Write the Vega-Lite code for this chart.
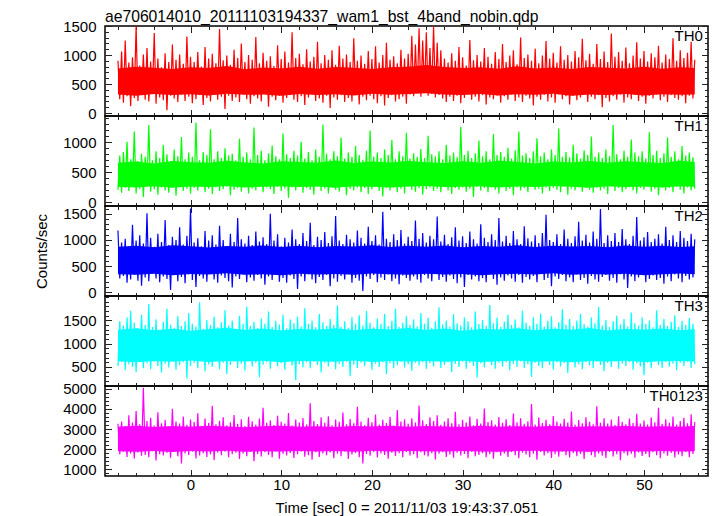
{
"$schema":"https://vega.github.io/schema/vega-lite/v6.json",
"padding":{"left":33,"top":8,"right":7,"bottom":2},
"config":{"font":"Liberation Sans","view":{"stroke":"#000","strokeWidth":1.5},
"axis":{"grid":false,"domain":false,"tickColor":"#222","tickWidth":1,"labelColor":"#000","labelFontSize":15,"labelFont":"Liberation Sans","titleFont":"Liberation Sans","titleFontSize":15,"titleFontWeight":"normal","titleColor":"#000","labelOverlap":false,"labelFlush":false,"minExtent":0},
"title":{"font":"Liberation Sans","fontSize":15.7,"fontWeight":"normal","color":"#000"},
"text":{"font":"Liberation Sans","fontSize":15,"color":"#000"}},
"datasets":{
"band":[
{"t":-8,"a0":320,"a1":770,"b0":260,"b1":660,"c0":340,"c1":870,"d0":620,"d1":1300,"e0":1900,"e1":3120},
{"t":-6,"a0":300,"a1":800,"b0":250,"b1":680,"c0":330,"c1":890,"d0":600,"d1":1330,"e0":1880,"e1":3160},
{"t":-4,"a0":330,"a1":780,"b0":270,"b1":650,"c0":350,"c1":860,"d0":630,"d1":1290,"e0":1920,"e1":3100},
{"t":-2,"a0":310,"a1":760,"b0":245,"b1":690,"c0":325,"c1":900,"d0":610,"d1":1320,"e0":1870,"e1":3150},
{"t":0,"a0":325,"a1":790,"b0":265,"b1":670,"c0":345,"c1":880,"d0":640,"d1":1280,"e0":1910,"e1":3110},
{"t":2,"a0":305,"a1":775,"b0":255,"b1":660,"c0":335,"c1":855,"d0":605,"d1":1310,"e0":1890,"e1":3170},
{"t":4,"a0":335,"a1":810,"b0":275,"b1":695,"c0":360,"c1":885,"d0":625,"d1":1340,"e0":1930,"e1":3130},
{"t":6,"a0":315,"a1":755,"b0":250,"b1":665,"c0":330,"c1":870,"d0":615,"d1":1295,"e0":1875,"e1":3095},
{"t":8,"a0":320,"a1":785,"b0":260,"b1":650,"c0":340,"c1":895,"d0":635,"d1":1325,"e0":1905,"e1":3145},
{"t":10,"a0":300,"a1":770,"b0":270,"b1":685,"c0":325,"c1":865,"d0":600,"d1":1285,"e0":1885,"e1":3165},
{"t":12,"a0":330,"a1":800,"b0":255,"b1":675,"c0":350,"c1":890,"d0":630,"d1":1315,"e0":1920,"e1":3115},
{"t":14,"a0":310,"a1":765,"b0":265,"b1":660,"c0":335,"c1":860,"d0":620,"d1":1300,"e0":1895,"e1":3135},
{"t":16,"a0":325,"a1":795,"b0":245,"b1":700,"c0":345,"c1":885,"d0":610,"d1":1330,"e0":1910,"e1":3105},
{"t":18,"a0":305,"a1":780,"b0":270,"b1":655,"c0":330,"c1":875,"d0":640,"d1":1290,"e0":1880,"e1":3155},
{"t":20,"a0":335,"a1":760,"b0":260,"b1":680,"c0":355,"c1":900,"d0":605,"d1":1320,"e0":1925,"e1":3125},
{"t":22,"a0":315,"a1":790,"b0":250,"b1":665,"c0":340,"c1":865,"d0":625,"d1":1305,"e0":1890,"e1":3170},
{"t":24,"a0":330,"a1":800,"b0":265,"b1":690,"c0":330,"c1":890,"d0":615,"d1":1335,"e0":1915,"e1":3110},
{"t":26,"a0":340,"a1":830,"b0":275,"b1":670,"c0":350,"c1":870,"d0":630,"d1":1295,"e0":1900,"e1":3150},
{"t":28,"a0":320,"a1":795,"b0":255,"b1":655,"c0":335,"c1":895,"d0":610,"d1":1325,"e0":1885,"e1":3130},
{"t":30,"a0":310,"a1":775,"b0":260,"b1":685,"c0":345,"c1":860,"d0":635,"d1":1280,"e0":1920,"e1":3100},
{"t":32,"a0":330,"a1":790,"b0":270,"b1":660,"c0":325,"c1":885,"d0":605,"d1":1315,"e0":1895,"e1":3160},
{"t":34,"a0":305,"a1":765,"b0":250,"b1":695,"c0":340,"c1":870,"d0":620,"d1":1305,"e0":1875,"e1":3120},
{"t":36,"a0":325,"a1":805,"b0":265,"b1":675,"c0":350,"c1":900,"d0":640,"d1":1330,"e0":1910,"e1":3145},
{"t":38,"a0":315,"a1":770,"b0":255,"b1":650,"c0":335,"c1":865,"d0":610,"d1":1290,"e0":1930,"e1":3115},
{"t":40,"a0":335,"a1":785,"b0":275,"b1":680,"c0":360,"c1":890,"d0":630,"d1":1320,"e0":1890,"e1":3170},
{"t":42,"a0":300,"a1":760,"b0":260,"b1":665,"c0":330,"c1":875,"d0":600,"d1":1300,"e0":1905,"e1":3105},
{"t":44,"a0":320,"a1":795,"b0":245,"b1":690,"c0":345,"c1":885,"d0":625,"d1":1335,"e0":1880,"e1":3140},
{"t":46,"a0":310,"a1":780,"b0":270,"b1":660,"c0":335,"c1":860,"d0":615,"d1":1285,"e0":1920,"e1":3125},
{"t":48,"a0":330,"a1":770,"b0":255,"b1":685,"c0":350,"c1":895,"d0":635,"d1":1315,"e0":1900,"e1":3155},
{"t":50,"a0":305,"a1":800,"b0":265,"b1":670,"c0":325,"c1":870,"d0":605,"d1":1300,"e0":1885,"e1":3110},
{"t":52,"a0":325,"a1":765,"b0":250,"b1":655,"c0":340,"c1":890,"d0":620,"d1":1325,"e0":1915,"e1":3135},
{"t":54,"a0":315,"a1":790,"b0":270,"b1":695,"c0":355,"c1":865,"d0":630,"d1":1290,"e0":1895,"e1":3120},
{"t":55.6,"a0":320,"a1":775,"b0":260,"b1":675,"c0":340,"c1":880,"d0":615,"d1":1310,"e0":1905,"e1":3150}
],
"lc":[
{"t":-8.0,"a":900,"b":210,"c":1180,"d":520,"e":3260},
{"t":-7.8,"a":240,"b":780,"c":260,"d":1480,"e":1750},
{"t":-7.6,"a":1060,"b":160,"c":950,"d":610,"e":3380},
{"t":-7.4,"a":180,"b":840,"c":310,"d":1390,"e":1880},
{"t":-7.2,"a":1250,"b":240,"c":1020,"d":430,"e":3150},
{"t":-7.0,"a":290,"b":1010,"c":180,"d":1560,"e":1620},
{"t":-6.8,"a":870,"b":190,"c":880,"d":560,"e":3690},
{"t":-6.6,"a":120,"b":720,"c":240,"d":1710,"e":1790},
{"t":-6.4,"a":960,"b":260,"c":1290,"d":500,"e":3320},
{"t":-6.2,"a":260,"b":1180,"c":330,"d":1450,"e":1540},
{"t":-6.0,"a":1500,"b":150,"c":990,"d":390,"e":3890},
{"t":-5.8,"a":210,"b":690,"c":220,"d":1330,"e":1840},
{"t":-5.6,"a":820,"b":230,"c":1090,"d":620,"e":3240},
{"t":-5.4,"a":310,"b":810,"c":120,"d":1620,"e":1680},
{"t":-5.2,"a":1010,"b":90,"c":930,"d":470,"e":5050},
{"t":-5.0,"a":230,"b":760,"c":280,"d":1400,"e":1720},
{"t":-4.8,"a":1120,"b":270,"c":1510,"d":580,"e":3400},
{"t":-4.6,"a":200,"b":1290,"c":210,"d":1850,"e":1610},
{"t":-4.4,"a":890,"b":180,"c":1040,"d":450,"e":3560},
{"t":-4.2,"a":330,"b":700,"c":350,"d":1360,"e":1900},
{"t":-4.0,"a":1380,"b":220,"c":870,"d":610,"e":3180},
{"t":-3.8,"a":160,"b":850,"c":260,"d":1520,"e":1450},
{"t":-3.6,"a":940,"b":130,"c":1120,"d":520,"e":3830},
{"t":-3.4,"a":270,"b":740,"c":190,"d":1290,"e":1760},
{"t":-3.2,"a":790,"b":250,"c":960,"d":380,"e":3290},
{"t":-3.0,"a":220,"b":960,"c":300,"d":1470,"e":1690},
{"t":-2.8,"a":1030,"b":200,"c":1380,"d":570,"e":3450},
{"t":-2.6,"a":50,"b":800,"c":250,"d":1750,"e":1830},
{"t":-2.4,"a":880,"b":160,"c":900,"d":490,"e":3120},
{"t":-2.2,"a":300,"b":690,"c":40,"d":1410,"e":1580},
{"t":-2.0,"a":1180,"b":240,"c":1060,"d":630,"e":4010},
{"t":-1.8,"a":250,"b":880,"c":330,"d":1340,"e":1870},
{"t":-1.6,"a":920,"b":110,"c":1000,"d":440,"e":3370},
{"t":-1.4,"a":190,"b":770,"c":210,"d":1590,"e":1650},
{"t":-1.2,"a":1010,"b":260,"c":1240,"d":540,"e":3280},
{"t":-1.0,"a":320,"b":1090,"c":290,"d":1380,"e":1300},
{"t":-0.8,"a":850,"b":190,"c":910,"d":600,"e":3620},
{"t":-0.6,"a":210,"b":720,"c":170,"d":1480,"e":1790},
{"t":-0.4,"a":1320,"b":230,"c":1080,"d":250,"e":3210},
{"t":-0.2,"a":280,"b":830,"c":340,"d":1660,"e":1720},
{"t":0.0,"a":970,"b":150,"c":1600,"d":520,"e":3470},
{"t":0.2,"a":170,"b":760,"c":230,"d":1430,"e":1880},
{"t":0.4,"a":880,"b":240,"c":950,"d":590,"e":3350},
{"t":0.6,"a":240,"b":1330,"c":100,"d":1370,"e":1540},
{"t":0.8,"a":1050,"b":200,"c":1030,"d":470,"e":3780},
{"t":1.0,"a":310,"b":700,"c":310,"d":1890,"e":1690},
{"t":1.2,"a":800,"b":270,"c":880,"d":620,"e":3160},
{"t":1.4,"a":140,"b":840,"c":260,"d":1320,"e":1810},
{"t":1.6,"a":1140,"b":170,"c":1170,"d":410,"e":3520},
{"t":1.8,"a":260,"b":790,"c":200,"d":1510,"e":1620},
{"t":2.0,"a":940,"b":230,"c":990,"d":560,"e":3300},
{"t":2.2,"a":200,"b":1220,"c":350,"d":1400,"e":1760},
{"t":2.4,"a":1020,"b":140,"c":1090,"d":500,"e":4150},
{"t":2.6,"a":330,"b":720,"c":240,"d":1580,"e":1470},
{"t":2.8,"a":860,"b":250,"c":910,"d":630,"e":3240},
{"t":3.0,"a":230,"b":850,"c":180,"d":1350,"e":1840},
{"t":3.2,"a":1450,"b":190,"c":1270,"d":450,"e":3410},
{"t":3.4,"a":280,"b":740,"c":320,"d":1460,"e":1700},
{"t":3.6,"a":910,"b":220,"c":1000,"d":590,"e":3590},
{"t":3.8,"a":70,"b":900,"c":270,"d":1720,"e":1880},
{"t":4.0,"a":990,"b":260,"c":880,"d":350,"e":3190},
{"t":4.2,"a":300,"b":780,"c":210,"d":1390,"e":1610},
{"t":4.4,"a":830,"b":120,"c":1120,"d":540,"e":3340},
{"t":4.6,"a":210,"b":810,"c":90,"d":1500,"e":1750},
{"t":4.8,"a":1090,"b":210,"c":960,"d":610,"e":3700},
{"t":5.0,"a":270,"b":700,"c":300,"d":1310,"e":1830},
{"t":5.2,"a":950,"b":240,"c":1420,"d":480,"e":3260},
{"t":5.4,"a":190,"b":1060,"c":250,"d":1600,"e":1520},
{"t":5.6,"a":1200,"b":180,"c":1010,"d":570,"e":3480},
{"t":5.8,"a":320,"b":760,"c":340,"d":1420,"e":1790},
{"t":6.0,"a":880,"b":270,"c":930,"d":420,"e":3150},
{"t":6.2,"a":240,"b":830,"c":190,"d":1800,"e":1660},
{"t":6.4,"a":1000,"b":150,"c":1080,"d":640,"e":3610},
{"t":6.6,"a":160,"b":720,"c":280,"d":1380,"e":1860},
{"t":6.8,"a":920,"b":230,"c":900,"d":510,"e":3390},
{"t":7.0,"a":290,"b":1250,"c":220,"d":1470,"e":1410},
{"t":7.2,"a":1310,"b":200,"c":1160,"d":590,"e":3230},
{"t":7.4,"a":250,"b":790,"c":330,"d":1340,"e":1770},
{"t":7.6,"a":860,"b":260,"c":970,"d":280,"e":3520},
{"t":7.8,"a":200,"b":860,"c":260,"d":1540,"e":1640},
{"t":8.0,"a":1040,"b":170,"c":1050,"d":550,"e":4060},
{"t":8.2,"a":330,"b":700,"c":140,"d":1430,"e":1850},
{"t":8.4,"a":900,"b":250,"c":920,"d":600,"e":3310},
{"t":8.6,"a":110,"b":820,"c":300,"d":1690,"e":1720},
{"t":8.8,"a":980,"b":220,"c":1500,"d":460,"e":3440},
{"t":9.0,"a":280,"b":950,"c":230,"d":1360,"e":1600},
{"t":9.2,"a":810,"b":140,"c":990,"d":620,"e":3200},
{"t":9.4,"a":220,"b":770,"c":350,"d":1490,"e":1890},
{"t":9.6,"a":1170,"b":260,"c":1110,"d":510,"e":3660},
{"t":9.8,"a":300,"b":720,"c":200,"d":1410,"e":1530},
{"t":10.0,"a":930,"b":190,"c":880,"d":580,"e":3360},
{"t":10.2,"a":180,"b":1150,"c":270,"d":1620,"e":1780},
{"t":10.4,"a":1060,"b":230,"c":1040,"d":440,"e":3280},
{"t":10.6,"a":260,"b":800,"c":180,"d":1330,"e":1690},
{"t":10.8,"a":870,"b":80,"c":950,"d":630,"e":3790},
{"t":11.0,"a":310,"b":740,"c":320,"d":1520,"e":1820},
{"t":11.2,"a":1390,"b":250,"c":1200,"d":530,"e":3170},
{"t":11.4,"a":230,"b":860,"c":250,"d":1440,"e":1570},
{"t":11.6,"a":950,"b":200,"c":1010,"d":220,"e":3470},
{"t":11.8,"a":190,"b":780,"c":60,"d":1580,"e":1760},
{"t":12.0,"a":1020,"b":270,"c":920,"d":560,"e":3330},
{"t":12.2,"a":290,"b":1010,"c":300,"d":1370,"e":1880},
{"t":12.4,"a":840,"b":160,"c":1130,"d":490,"e":3550},
{"t":12.6,"a":140,"b":730,"c":210,"d":1760,"e":1630},
{"t":12.8,"a":1100,"b":240,"c":980,"d":600,"e":3220},
{"t":13.0,"a":270,"b":840,"c":340,"d":1420,"e":1710},
{"t":13.2,"a":890,"b":210,"c":1330,"d":470,"e":4280},
{"t":13.4,"a":320,"b":700,"c":240,"d":1500,"e":1480},
{"t":13.6,"a":970,"b":130,"c":900,"d":610,"e":3400},
{"t":13.8,"a":210,"b":880,"c":170,"d":1350,"e":1850},
{"t":14.0,"a":1230,"b":260,"c":1060,"d":540,"e":3250},
{"t":14.2,"a":250,"b":760,"c":290,"d":1640,"e":1620},
{"t":14.4,"a":860,"b":190,"c":1000,"d":380,"e":3580},
{"t":14.6,"a":180,"b":1300,"c":230,"d":1460,"e":1790},
{"t":14.8,"a":1000,"b":230,"c":1150,"d":590,"e":3310},
{"t":15.0,"a":300,"b":810,"c":330,"d":1380,"e":1700},
{"t":15.2,"a":920,"b":150,"c":940,"d":510,"e":3640},
{"t":15.4,"a":90,"b":720,"c":110,"d":1530,"e":1840},
{"t":15.6,"a":1080,"b":250,"c":1070,"d":620,"e":3190},
{"t":15.8,"a":270,"b":850,"c":260,"d":1400,"e":1560},
{"t":16.0,"a":830,"b":210,"c":1460,"d":450,"e":3470},
{"t":16.2,"a":230,"b":770,"c":200,"d":1820,"e":1780},
{"t":16.4,"a":1160,"b":180,"c":990,"d":570,"e":3360},
{"t":16.6,"a":310,"b":1080,"c":310,"d":1360,"e":1650},
{"t":16.8,"a":940,"b":260,"c":920,"d":500,"e":3820},
{"t":17.0,"a":190,"b":730,"c":240,"d":1480,"e":1890},
{"t":17.2,"a":1010,"b":120,"c":1100,"d":610,"e":3240},
{"t":17.4,"a":260,"b":830,"c":350,"d":1340,"e":1520},
{"t":17.6,"a":880,"b":230,"c":1010,"d":300,"e":3500},
{"t":17.8,"a":200,"b":760,"c":180,"d":1570,"e":1740},
{"t":18.0,"a":1290,"b":200,"c":950,"d":550,"e":3290},
{"t":18.2,"a":320,"b":940,"c":270,"d":1430,"e":1820},
{"t":18.4,"a":900,"b":250,"c":1180,"d":480,"e":4100},
{"t":18.6,"a":150,"b":790,"c":220,"d":1610,"e":1610},
{"t":18.8,"a":990,"b":170,"c":1040,"d":590,"e":3380},
{"t":19.0,"a":280,"b":710,"c":20,"d":1390,"e":1300},
{"t":19.2,"a":850,"b":240,"c":930,"d":520,"e":3190},
{"t":19.4,"a":220,"b":860,"c":300,"d":1700,"e":1770},
{"t":19.6,"a":1070,"b":140,"c":1250,"d":630,"e":3560},
{"t":19.8,"a":300,"b":1200,"c":250,"d":1450,"e":1680},
{"t":20.0,"a":930,"b":220,"c":980,"d":440,"e":3340},
{"t":20.2,"a":240,"b":760,"c":330,"d":1350,"e":1860},
{"t":20.4,"a":1150,"b":260,"c":1090,"d":570,"e":3720},
{"t":20.6,"a":170,"b":830,"c":190,"d":1540,"e":1590},
{"t":20.8,"a":870,"b":190,"c":910,"d":500,"e":3230},
{"t":21.0,"a":290,"b":740,"c":280,"d":1420,"e":1790},
{"t":21.2,"a":1000,"b":100,"c":1540,"d":600,"e":3460},
{"t":21.4,"a":130,"b":880,"c":230,"d":1640,"e":1720},
{"t":21.6,"a":1210,"b":240,"c":1020,"d":350,"e":3300},
{"t":21.8,"a":260,"b":790,"c":340,"d":1380,"e":1530},
{"t":22.0,"a":920,"b":200,"c":960,"d":580,"e":3610},
{"t":22.2,"a":310,"b":1040,"c":210,"d":1490,"e":1830},
{"t":22.4,"a":980,"b":250,"c":1110,"d":470,"e":3180},
{"t":22.6,"a":200,"b":720,"c":260,"d":1750,"e":1670},
{"t":22.8,"a":860,"b":170,"c":1000,"d":540,"e":3950},
{"t":23.0,"a":240,"b":850,"c":150,"d":1360,"e":1800},
{"t":23.2,"a":1090,"b":230,"c":1190,"d":610,"e":3370},
{"t":23.4,"a":280,"b":770,"c":320,"d":1450,"e":1600},
{"t":23.6,"a":940,"b":150,"c":930,"d":490,"e":3490},
{"t":23.8,"a":160,"b":1160,"c":270,"d":1590,"e":1870},
{"t":24.0,"a":1020,"b":260,"c":1060,"d":560,"e":3260},
{"t":24.2,"a":320,"b":730,"c":220,"d":1400,"e":1690},
{"t":24.4,"a":1330,"b":210,"c":980,"d":420,"e":3540},
{"t":24.6,"a":290,"b":820,"c":300,"d":1520,"e":1760},
{"t":24.8,"a":1180,"b":180,"c":1370,"d":590,"e":3320},
{"t":25.0,"a":340,"b":760,"c":240,"d":1370,"e":1560},
{"t":25.2,"a":1460,"b":240,"c":1020,"d":530,"e":4170},
{"t":25.4,"a":280,"b":890,"c":180,"d":1660,"e":1850},
{"t":25.6,"a":1250,"b":130,"c":1130,"d":600,"e":3430},
{"t":25.8,"a":360,"b":740,"c":330,"d":1430,"e":1700},
{"t":26.0,"a":1390,"b":220,"c":950,"d":460,"e":3250},
{"t":26.2,"a":300,"b":1110,"c":260,"d":1550,"e":1640},
{"t":26.4,"a":1120,"b":250,"c":1080,"d":580,"e":3580},
{"t":26.6,"a":330,"b":800,"c":210,"d":1340,"e":1810},
{"t":26.8,"a":1500,"b":190,"c":1010,"d":510,"e":3400},
{"t":27.0,"a":270,"b":770,"c":350,"d":1480,"e":1490},
{"t":27.2,"a":1210,"b":230,"c":1450,"d":620,"e":3690},
{"t":27.4,"a":310,"b":850,"c":230,"d":1780,"e":1780},
{"t":27.6,"a":1080,"b":170,"c":970,"d":480,"e":3210},
{"t":27.8,"a":250,"b":720,"c":290,"d":1410,"e":1860},
{"t":28.0,"a":940,"b":260,"c":1100,"d":550,"e":3370},
{"t":28.2,"a":190,"b":960,"c":200,"d":1500,"e":1620},
{"t":28.4,"a":870,"b":200,"c":920,"d":600,"e":3530},
{"t":28.6,"a":280,"b":780,"c":320,"d":1370,"e":1740},
{"t":28.8,"a":1030,"b":140,"c":1050,"d":390,"e":3290},
{"t":29.0,"a":210,"b":830,"c":250,"d":1630,"e":1580},
{"t":29.2,"a":900,"b":240,"c":1240,"d":570,"e":3860},
{"t":29.4,"a":300,"b":750,"c":170,"d":1440,"e":1830},
{"t":29.6,"a":1140,"b":210,"c":990,"d":500,"e":3240},
{"t":29.8,"a":170,"b":1260,"c":280,"d":1390,"e":1690},
{"t":30.0,"a":960,"b":250,"c":1070,"d":610,"e":3460},
{"t":30.2,"a":260,"b":790,"c":100,"d":1560,"e":1770},
{"t":30.4,"a":820,"b":180,"c":940,"d":460,"e":3330},
{"t":30.6,"a":320,"b":860,"c":330,"d":1480,"e":1550},
{"t":30.8,"a":1260,"b":230,"c":1160,"d":590,"e":3620},
{"t":31.0,"a":230,"b":740,"c":240,"d":1350,"e":1880},
{"t":31.2,"a":910,"b":90,"c":1010,"d":520,"e":3190},
{"t":31.4,"a":280,"b":820,"c":300,"d":1690,"e":1660},
{"t":31.6,"a":1000,"b":260,"c":930,"d":270,"e":3510},
{"t":31.8,"a":200,"b":1030,"c":210,"d":1420,"e":1720},
{"t":32.0,"a":890,"b":200,"c":1300,"d":580,"e":3280},
{"t":32.2,"a":310,"b":770,"c":270,"d":1510,"e":1810},
{"t":32.4,"a":1120,"b":240,"c":1040,"d":490,"e":4020},
{"t":32.6,"a":150,"b":850,"c":190,"d":1380,"e":1600},
{"t":32.8,"a":970,"b":170,"c":960,"d":620,"e":3350},
{"t":33.0,"a":270,"b":720,"c":340,"d":1830,"e":1750},
{"t":33.2,"a":850,"b":250,"c":1110,"d":540,"e":3440},
{"t":33.4,"a":240,"b":1140,"c":250,"d":1440,"e":1530},
{"t":33.6,"a":1050,"b":210,"c":1000,"d":460,"e":3230},
{"t":33.8,"a":300,"b":790,"c":140,"d":1560,"e":1850},
{"t":34.0,"a":930,"b":150,"c":1420,"d":590,"e":3600},
{"t":34.2,"a":180,"b":840,"c":280,"d":1360,"e":1680},
{"t":34.4,"a":1190,"b":260,"c":970,"d":510,"e":3310},
{"t":34.6,"a":290,"b":760,"c":220,"d":1470,"e":1790},
{"t":34.8,"a":880,"b":190,"c":1080,"d":600,"e":3480},
{"t":35.0,"a":230,"b":910,"c":320,"d":1620,"e":1620},
{"t":35.2,"a":990,"b":230,"c":940,"d":430,"e":3200},
{"t":35.4,"a":320,"b":730,"c":260,"d":1400,"e":1870},
{"t":35.6,"a":1080,"b":120,"c":1170,"d":570,"e":3770},
{"t":35.8,"a":210,"b":870,"c":200,"d":1520,"e":1700},
{"t":36.0,"a":840,"b":250,"c":1010,"d":500,"e":3340},
{"t":36.2,"a":270,"b":1180,"c":330,"d":1350,"e":1560},
{"t":36.4,"a":1300,"b":200,"c":920,"d":620,"e":3530},
{"t":36.6,"a":190,"b":780,"c":180,"d":1710,"e":1830},
{"t":36.8,"a":950,"b":240,"c":1260,"d":480,"e":3260},
{"t":37.0,"a":300,"b":820,"c":290,"d":1450,"e":1740},
{"t":37.2,"a":1010,"b":170,"c":1030,"d":560,"e":3390},
{"t":37.4,"a":250,"b":740,"c":240,"d":1380,"e":1610},
{"t":37.6,"a":900,"b":260,"c":970,"d":290,"e":4240},
{"t":37.8,"a":130,"b":850,"c":310,"d":1570,"e":1780},
{"t":38.0,"a":1110,"b":210,"c":1090,"d":590,"e":3220},
{"t":38.2,"a":280,"b":1070,"c":190,"d":1430,"e":1480},
{"t":38.4,"a":860,"b":230,"c":940,"d":520,"e":3570},
{"t":38.6,"a":230,"b":770,"c":350,"d":1650,"e":1860},
{"t":38.8,"a":990,"b":150,"c":1130,"d":470,"e":3300},
{"t":39.0,"a":310,"b":830,"c":230,"d":1370,"e":1690},
{"t":39.2,"a":1240,"b":250,"c":1480,"d":610,"e":3460},
{"t":39.4,"a":200,"b":720,"c":270,"d":1490,"e":1800},
{"t":39.6,"a":940,"b":190,"c":1000,"d":540,"e":3240},
{"t":39.8,"a":270,"b":880,"c":110,"d":1590,"e":1570},
{"t":40.0,"a":1040,"b":240,"c":960,"d":440,"e":3650},
{"t":40.2,"a":180,"b":790,"c":300,"d":1350,"e":1750},
{"t":40.4,"a":870,"b":210,"c":1110,"d":600,"e":3380},
{"t":40.6,"a":320,"b":1230,"c":250,"d":1460,"e":1630},
{"t":40.8,"a":1150,"b":170,"c":920,"d":510,"e":3270},
{"t":41.0,"a":240,"b":760,"c":330,"d":1740,"e":1880},
{"t":41.2,"a":920,"b":260,"c":1200,"d":580,"e":3510},
{"t":41.4,"a":290,"b":840,"c":210,"d":1410,"e":1710},
{"t":41.6,"a":1000,"b":130,"c":1020,"d":370,"e":3330},
{"t":41.8,"a":150,"b":750,"c":280,"d":1530,"e":1590},
{"t":42.0,"a":890,"b":230,"c":940,"d":620,"e":3870},
{"t":42.2,"a":300,"b":960,"c":190,"d":1380,"e":1820},
{"t":42.4,"a":1070,"b":200,"c":1070,"d":490,"e":3210},
{"t":42.6,"a":220,"b":820,"c":340,"d":1500,"e":1660},
{"t":42.8,"a":960,"b":250,"c":1350,"d":560,"e":3450},
{"t":43.0,"a":270,"b":730,"c":230,"d":1640,"e":1770},
{"t":43.2,"a":1280,"b":180,"c":990,"d":450,"e":3290},
{"t":43.4,"a":330,"b":870,"c":270,"d":1420,"e":1520},
{"t":43.6,"a":910,"b":240,"c":1100,"d":600,"e":3580},
{"t":43.8,"a":190,"b":790,"c":160,"d":1370,"e":1850},
{"t":44.0,"a":1020,"b":210,"c":950,"d":530,"e":3360},
{"t":44.2,"a":280,"b":1100,"c":310,"d":1560,"e":1700},
{"t":44.4,"a":850,"b":160,"c":1160,"d":470,"e":3240},
{"t":44.6,"a":240,"b":760,"c":240,"d":1440,"e":1610},
{"t":44.8,"a":1190,"b":250,"c":1020,"d":610,"e":4130},
{"t":45.0,"a":310,"b":830,"c":200,"d":1790,"e":1790},
{"t":45.2,"a":930,"b":200,"c":1590,"d":540,"e":3310},
{"t":45.4,"a":100,"b":740,"c":290,"d":1390,"e":1680},
{"t":45.6,"a":1060,"b":230,"c":940,"d":410,"e":3540},
{"t":45.8,"a":260,"b":880,"c":330,"d":1510,"e":1570},
{"t":46.0,"a":880,"b":140,"c":1090,"d":590,"e":3280},
{"t":46.2,"a":200,"b":770,"c":220,"d":1360,"e":1860},
{"t":46.4,"a":1370,"b":260,"c":980,"d":500,"e":3470},
{"t":46.6,"a":290,"b":1290,"c":270,"d":1480,"e":1640},
{"t":46.8,"a":970,"b":190,"c":1130,"d":620,"e":3200},
{"t":47.0,"a":230,"b":800,"c":180,"d":1600,"e":1750},
{"t":47.2,"a":1050,"b":240,"c":960,"d":460,"e":3640},
{"t":47.4,"a":320,"b":720,"c":340,"d":1410,"e":1460},
{"t":47.6,"a":900,"b":170,"c":1210,"d":570,"e":3350},
{"t":47.8,"a":180,"b":860,"c":240,"d":1530,"e":1810},
{"t":48.0,"a":1130,"b":220,"c":1010,"d":520,"e":3240},
{"t":48.2,"a":270,"b":760,"c":80,"d":1370,"e":1690},
{"t":48.4,"a":860,"b":250,"c":920,"d":600,"e":3520},
{"t":48.6,"a":240,"b":1050,"c":300,"d":1670,"e":1780},
{"t":48.8,"a":990,"b":200,"c":1080,"d":440,"e":3300},
{"t":49.0,"a":310,"b":830,"c":210,"d":1440,"e":1580},
{"t":49.2,"a":1220,"b":150,"c":1440,"d":580,"e":3760},
{"t":49.4,"a":210,"b":770,"c":280,"d":1390,"e":1840},
{"t":49.6,"a":940,"b":240,"c":990,"d":510,"e":3270},
{"t":49.8,"a":280,"b":850,"c":330,"d":1560,"e":1670},
{"t":50.0,"a":1070,"b":210,"c":1050,"d":320,"e":3430},
{"t":50.2,"a":160,"b":730,"c":190,"d":1420,"e":1770},
{"t":50.4,"a":890,"b":260,"c":1150,"d":590,"e":3220},
{"t":50.6,"a":300,"b":1170,"c":250,"d":1500,"e":1600},
{"t":50.8,"a":1030,"b":180,"c":960,"d":470,"e":3580},
{"t":51.0,"a":250,"b":790,"c":320,"d":1350,"e":1850},
{"t":51.2,"a":960,"b":230,"c":1020,"d":620,"e":3340},
{"t":51.4,"a":320,"b":860,"c":230,"d":1720,"e":1710},
{"t":51.6,"a":1160,"b":120,"c":1110,"d":540,"e":4050},
{"t":51.8,"a":220,"b":740,"c":270,"d":1400,"e":1560},
{"t":52.0,"a":870,"b":250,"c":930,"d":480,"e":3260},
{"t":52.2,"a":280,"b":820,"c":160,"d":1530,"e":1790},
{"t":52.4,"a":1010,"b":200,"c":1250,"d":600,"e":3490},
{"t":52.6,"a":190,"b":1080,"c":300,"d":1380,"e":1680},
{"t":52.8,"a":930,"b":240,"c":1000,"d":510,"e":3310},
{"t":53.0,"a":310,"b":760,"c":210,"d":1470,"e":1820},
{"t":53.2,"a":1290,"b":170,"c":1090,"d":570,"e":3620},
{"t":53.4,"a":260,"b":850,"c":340,"d":1610,"e":1590},
{"t":53.6,"a":900,"b":260,"c":960,"d":430,"e":3230},
{"t":53.8,"a":230,"b":720,"c":260,"d":1360,"e":1740},
{"t":54.0,"a":1080,"b":210,"c":1170,"d":590,"e":3400},
{"t":54.2,"a":290,"b":940,"c":190,"d":1490,"e":1650},
{"t":54.4,"a":950,"b":150,"c":1040,"d":520,"e":3560},
{"t":54.6,"a":170,"b":780,"c":310,"d":1400,"e":1860},
{"t":54.8,"a":1040,"b":250,"c":980,"d":610,"e":3290},
{"t":55.0,"a":300,"b":830,"c":240,"d":1550,"e":1600},
{"t":55.2,"a":1230,"b":200,"c":1120,"d":480,"e":3730},
{"t":55.4,"a":250,"b":750,"c":280,"d":1430,"e":1770},
{"t":55.6,"a":920,"b":230,"c":1010,"d":560,"e":3350}
]},
"spacing":0,
"bounds":"flush",
"vconcat":[
{"width":603,"height":90,
"title":{"text":"ae706014010_20111103194337_wam1_bst_4band_nobin.qdp","anchor":"start","frame":"group","baseline":"alphabetic","offset":-19},
"layer":[
{"data":{"name":"band"},"mark":{"type":"area","color":"#ff0000","clip":true},
"encoding":{
"x":{"field":"t","type":"quantitative","scale":{"domain":[-9.43,57.06],"nice":false,"zero":false},"axis":{"orient":"bottom","title":null,"labels":false,"values":[0,10,20,30,40,50],"tickSize":-6.5,"maxExtent":0}},
"y":{"field":"a0","type":"quantitative","scale":{"domain":[-50,1500],"nice":false,"zero":false},"axis":{"orient":"left","title":null,"format":"d","values":[0,500,1000,1500],"tickSize":-6.5,"labelPadding":15.5}},
"y2":{"field":"a1"}}},
{"data":{"name":"lc"},"mark":{"type":"line","color":"#ff0000","strokeWidth":1.2,"strokeJoin":"bevel","clip":true},
"encoding":{
"x":{"field":"t","type":"quantitative","scale":{"domain":[-9.43,57.06],"nice":false,"zero":false},"axis":{"orient":"bottom","title":null,"labels":false,"values":[-8,-6,-4,-2,2,4,6,8,12,14,16,18,22,24,26,28,32,34,36,38,42,44,46,48,52,54,56],"tickSize":-3.5,"maxExtent":0}},
"y":{"field":"a","type":"quantitative","scale":{"domain":[-50,1500],"nice":false,"zero":false},"axis":{"orient":"left","title":null,"labels":false,"values":[100,200,300,400,600,700,800,900,1100,1200,1300,1400],"tickSize":-3.5,"maxExtent":0}}}},
{"data":{"values":[{"lab":"TH0"}]},"mark":{"type":"text","align":"right","baseline":"alphabetic","fontSize":15},
"encoding":{
"x":{"datum":56.5,"type":"quantitative","axis":{"orient":"top","title":null,"labels":false,"values":[0,10,20,30,40,50],"tickSize":-6.5,"maxExtent":0}},
"y":{"datum":1250,"type":"quantitative","axis":{"orient":"right","title":null,"labels":false,"values":[0,500,1000,1500],"tickSize":-6.5,"maxExtent":0}},
"text":{"field":"lab"}}},
{"data":{"values":[{"lab":""}]},"mark":{"type":"text","fontSize":15},
"encoding":{
"x":{"datum":56.5,"type":"quantitative","axis":{"orient":"top","title":null,"labels":false,"values":[-8,-6,-4,-2,2,4,6,8,12,14,16,18,22,24,26,28,32,34,36,38,42,44,46,48,52,54,56],"tickSize":-3.5,"maxExtent":0}},
"y":{"datum":1250,"type":"quantitative","axis":{"orient":"right","title":null,"labels":false,"values":[100,200,300,400,600,700,800,900,1100,1200,1300,1400],"tickSize":-3.5,"maxExtent":0}},
"text":{"field":"lab"}}}
],
"resolve":{"axis":{"x":"independent","y":"independent"}}},

{"width":603,"height":90,
"layer":[
{"data":{"name":"band"},"mark":{"type":"area","color":"#00ff00","clip":true},
"encoding":{
"x":{"field":"t","type":"quantitative","scale":{"domain":[-9.43,57.06],"nice":false,"zero":false},"axis":{"orient":"bottom","title":null,"labels":false,"values":[0,10,20,30,40,50],"tickSize":-6.5,"maxExtent":0}},
"y":{"field":"b0","type":"quantitative","scale":{"domain":[-60,1440],"nice":false,"zero":false},"axis":{"orient":"left","title":null,"format":"d","values":[0,500,1000],"tickSize":-6.5,"labelPadding":15.5}},
"y2":{"field":"b1"}}},
{"data":{"name":"lc"},"mark":{"type":"line","color":"#00ff00","strokeWidth":1.2,"strokeJoin":"bevel","clip":true},
"encoding":{
"x":{"field":"t","type":"quantitative","scale":{"domain":[-9.43,57.06],"nice":false,"zero":false},"axis":{"orient":"bottom","title":null,"labels":false,"values":[-8,-6,-4,-2,2,4,6,8,12,14,16,18,22,24,26,28,32,34,36,38,42,44,46,48,52,54,56],"tickSize":-3.5,"maxExtent":0}},
"y":{"field":"b","type":"quantitative","scale":{"domain":[-60,1440],"nice":false,"zero":false},"axis":{"orient":"left","title":null,"labels":false,"values":[100,200,300,400,600,700,800,900,1100,1200,1300,1400],"tickSize":-3.5,"maxExtent":0}}}},
{"data":{"values":[{"lab":"TH1"}]},"mark":{"type":"text","align":"right","baseline":"alphabetic","fontSize":15},
"encoding":{
"x":{"datum":56.5,"type":"quantitative","axis":{"orient":"top","title":null,"labels":false,"values":[0,10,20,30,40,50],"tickSize":-6.5,"maxExtent":0}},
"y":{"datum":1198,"type":"quantitative","axis":{"orient":"right","title":null,"labels":false,"values":[0,500,1000],"tickSize":-6.5,"maxExtent":0}},
"text":{"field":"lab"}}},
{"data":{"values":[{"lab":""}]},"mark":{"type":"text","fontSize":15},
"encoding":{
"x":{"datum":56.5,"type":"quantitative","axis":{"orient":"top","title":null,"labels":false,"values":[-8,-6,-4,-2,2,4,6,8,12,14,16,18,22,24,26,28,32,34,36,38,42,44,46,48,52,54,56],"tickSize":-3.5,"maxExtent":0}},
"y":{"datum":1198,"type":"quantitative","axis":{"orient":"right","title":null,"labels":false,"values":[100,200,300,400,600,700,800,900,1100,1200,1300,1400],"tickSize":-3.5,"maxExtent":0}},
"text":{"field":"lab"}}}
],
"resolve":{"axis":{"x":"independent","y":"independent"}}},

{"width":603,"height":90,
"layer":[
{"data":{"name":"band"},"mark":{"type":"area","color":"#0000ff","clip":true},
"encoding":{
"x":{"field":"t","type":"quantitative","scale":{"domain":[-9.43,57.06],"nice":false,"zero":false},"axis":{"orient":"bottom","title":null,"labels":false,"values":[0,10,20,30,40,50],"tickSize":-6.5,"maxExtent":0}},
"y":{"field":"c0","type":"quantitative","scale":{"domain":[-75,1650],"nice":false,"zero":false},"axis":{"orient":"left","title":"Counts/sec","titlePadding":13,"format":"d","values":[0,500,1000,1500],"tickSize":-6.5,"labelPadding":15.5}},
"y2":{"field":"c1"}}},
{"data":{"name":"lc"},"mark":{"type":"line","color":"#0000ff","strokeWidth":1.2,"strokeJoin":"bevel","clip":true},
"encoding":{
"x":{"field":"t","type":"quantitative","scale":{"domain":[-9.43,57.06],"nice":false,"zero":false},"axis":{"orient":"bottom","title":null,"labels":false,"values":[-8,-6,-4,-2,2,4,6,8,12,14,16,18,22,24,26,28,32,34,36,38,42,44,46,48,52,54,56],"tickSize":-3.5,"maxExtent":0}},
"y":{"field":"c","type":"quantitative","scale":{"domain":[-75,1650],"nice":false,"zero":false},"axis":{"orient":"left","title":null,"labels":false,"values":[100,200,300,400,600,700,800,900,1100,1200,1300,1400,1600],"tickSize":-3.5,"maxExtent":0}}}},
{"data":{"values":[{"lab":"TH2"}]},"mark":{"type":"text","align":"right","baseline":"alphabetic","fontSize":15},
"encoding":{
"x":{"datum":56.5,"type":"quantitative","axis":{"orient":"top","title":null,"labels":false,"values":[0,10,20,30,40,50],"tickSize":-6.5,"maxExtent":0}},
"y":{"datum":1372,"type":"quantitative","axis":{"orient":"right","title":null,"labels":false,"values":[0,500,1000,1500],"tickSize":-6.5,"maxExtent":0}},
"text":{"field":"lab"}}},
{"data":{"values":[{"lab":""}]},"mark":{"type":"text","fontSize":15},
"encoding":{
"x":{"datum":56.5,"type":"quantitative","axis":{"orient":"top","title":null,"labels":false,"values":[-8,-6,-4,-2,2,4,6,8,12,14,16,18,22,24,26,28,32,34,36,38,42,44,46,48,52,54,56],"tickSize":-3.5,"maxExtent":0}},
"y":{"datum":1372,"type":"quantitative","axis":{"orient":"right","title":null,"labels":false,"values":[100,200,300,400,600,700,800,900,1100,1200,1300,1400,1600],"tickSize":-3.5,"maxExtent":0}},
"text":{"field":"lab"}}}
],
"resolve":{"axis":{"x":"independent","y":"independent"}}},

{"width":603,"height":90,
"layer":[
{"data":{"name":"band"},"mark":{"type":"area","color":"#00ffff","clip":true},
"encoding":{
"x":{"field":"t","type":"quantitative","scale":{"domain":[-9.43,57.06],"nice":false,"zero":false},"axis":{"orient":"bottom","title":null,"labels":false,"values":[0,10,20,30,40,50],"tickSize":-6.5,"maxExtent":0}},
"y":{"field":"d0","type":"quantitative","scale":{"domain":[90,2025],"nice":false,"zero":false},"axis":{"orient":"left","title":null,"format":"d","values":[500,1000,1500],"tickSize":-6.5,"labelPadding":15.5}},
"y2":{"field":"d1"}}},
{"data":{"name":"lc"},"mark":{"type":"line","color":"#00ffff","strokeWidth":1.2,"strokeJoin":"bevel","clip":true},
"encoding":{
"x":{"field":"t","type":"quantitative","scale":{"domain":[-9.43,57.06],"nice":false,"zero":false},"axis":{"orient":"bottom","title":null,"labels":false,"values":[-8,-6,-4,-2,2,4,6,8,12,14,16,18,22,24,26,28,32,34,36,38,42,44,46,48,52,54,56],"tickSize":-3.5,"maxExtent":0}},
"y":{"field":"d","type":"quantitative","scale":{"domain":[90,2025],"nice":false,"zero":false},"axis":{"orient":"left","title":null,"labels":false,"values":[100,200,300,400,600,700,800,900,1100,1200,1300,1400,1600,1700,1800,1900,2000],"tickSize":-3.5,"maxExtent":0}}}},
{"data":{"values":[{"lab":"TH3"}]},"mark":{"type":"text","align":"right","baseline":"alphabetic","fontSize":15},
"encoding":{
"x":{"datum":56.5,"type":"quantitative","axis":{"orient":"top","title":null,"labels":false,"values":[0,10,20,30,40,50],"tickSize":-6.5,"maxExtent":0}},
"y":{"datum":1713,"type":"quantitative","axis":{"orient":"right","title":null,"labels":false,"values":[500,1000,1500],"tickSize":-6.5,"maxExtent":0}},
"text":{"field":"lab"}}},
{"data":{"values":[{"lab":""}]},"mark":{"type":"text","fontSize":15},
"encoding":{
"x":{"datum":56.5,"type":"quantitative","axis":{"orient":"top","title":null,"labels":false,"values":[-8,-6,-4,-2,2,4,6,8,12,14,16,18,22,24,26,28,32,34,36,38,42,44,46,48,52,54,56],"tickSize":-3.5,"maxExtent":0}},
"y":{"datum":1713,"type":"quantitative","axis":{"orient":"right","title":null,"labels":false,"values":[100,200,300,400,600,700,800,900,1100,1200,1300,1400,1600,1700,1800,1900,2000],"tickSize":-3.5,"maxExtent":0}},
"text":{"field":"lab"}}}
],
"resolve":{"axis":{"x":"independent","y":"independent"}}},

{"width":603,"height":90,
"layer":[
{"data":{"name":"band"},"mark":{"type":"area","color":"#ff00ff","clip":true},
"encoding":{
"x":{"field":"t","type":"quantitative","scale":{"domain":[-9.43,57.06],"nice":false,"zero":false},"axis":{"orient":"bottom","title":"Time [sec] 0 = 2011/11/03 19:43:37.051","titlePadding":8,"format":"d","values":[0,10,20,30,40,50],"tickSize":-6.5,"labelPadding":8}},
"y":{"field":"e0","type":"quantitative","scale":{"domain":[675,5135],"nice":false,"zero":false},"axis":{"orient":"left","title":null,"format":"d","values":[1000,2000,3000,4000,5000],"tickSize":-6.5,"labelPadding":15.5}},
"y2":{"field":"e1"}}},
{"data":{"name":"lc"},"mark":{"type":"line","color":"#ff00ff","strokeWidth":1.2,"strokeJoin":"bevel","clip":true},
"encoding":{
"x":{"field":"t","type":"quantitative","scale":{"domain":[-9.43,57.06],"nice":false,"zero":false},"axis":{"orient":"bottom","title":null,"labels":false,"values":[-8,-6,-4,-2,2,4,6,8,12,14,16,18,22,24,26,28,32,34,36,38,42,44,46,48,52,54,56],"tickSize":-3.5,"maxExtent":0}},
"y":{"field":"e","type":"quantitative","scale":{"domain":[675,5135],"nice":false,"zero":false},"axis":{"orient":"left","title":null,"labels":false,"values":[800,1200,1400,1600,1800,2200,2400,2600,2800,3200,3400,3600,3800,4200,4400,4600,4800],"tickSize":-3.5,"maxExtent":0}}}},
{"data":{"values":[{"lab":"TH0123"}]},"mark":{"type":"text","align":"right","baseline":"alphabetic","fontSize":15},
"encoding":{
"x":{"datum":56.5,"type":"quantitative","axis":{"orient":"top","title":null,"labels":false,"values":[0,10,20,30,40,50],"tickSize":-6.5,"maxExtent":0}},
"y":{"datum":4416,"type":"quantitative","axis":{"orient":"right","title":null,"labels":false,"values":[1000,2000,3000,4000,5000],"tickSize":-6.5,"maxExtent":0}},
"text":{"field":"lab"}}},
{"data":{"values":[{"lab":""}]},"mark":{"type":"text","fontSize":15},
"encoding":{
"x":{"datum":56.5,"type":"quantitative","axis":{"orient":"top","title":null,"labels":false,"values":[-8,-6,-4,-2,2,4,6,8,12,14,16,18,22,24,26,28,32,34,36,38,42,44,46,48,52,54,56],"tickSize":-3.5,"maxExtent":0}},
"y":{"datum":4416,"type":"quantitative","axis":{"orient":"right","title":null,"labels":false,"values":[800,1200,1400,1600,1800,2200,2400,2600,2800,3200,3400,3600,3800,4200,4400,4600,4800],"tickSize":-3.5,"maxExtent":0}},
"text":{"field":"lab"}}}
],
"resolve":{"axis":{"x":"independent","y":"independent"}}}
]
}
